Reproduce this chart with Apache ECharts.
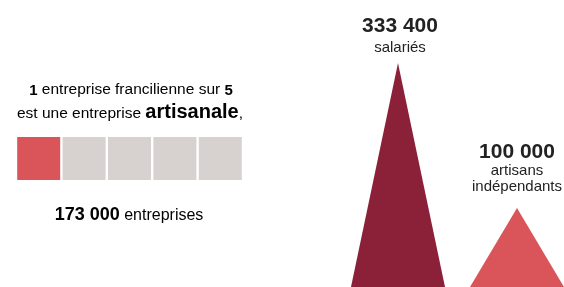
<!DOCTYPE html>
<html>
<head>
<meta charset="utf-8">
<script src="https://cdn.jsdelivr.net/npm/echarts@6/dist/echarts.min.js"></script>
<style>
html,body{margin:0;padding:0;background:#fff;overflow:hidden;}
#wrap{width:564px;height:287px;overflow:hidden;}
#c{width:600px;height:287px;}
</style>
</head>
<body>
<div id="wrap"><div id="c"></div></div>
<script>
// ---- data ----
const cellCategories = ['1', '2', '3', '4', '5'];
const cellValues = [1, 1, 1, 1, 1];
const cellIsArtisanal = [true, false, false, false, false];
const headlineNumbers = ['1', '5'];
const enterpriseCount = '173 000';

const workerCategories = ['salariés', 'artisans indépendants'];
const workerValues = [333400, 100000];
const workerNumberLabels = ['333 400', '100 000'];
const workerTextLines = [['salariés'], ['artisans', 'indépendants']];

// ---- styles ----
const FONT = '"Liberation Sans", Arial, sans-serif';
const TXT = '#222222';
const RED = '#d9555a';
const GREY = '#d7d1cf';
const DARK = '#8b2139';
const workerColors = [DARK, RED];
const Y_MIN = -27000, Y_MAX = 435000;

const chart = echarts.init(document.getElementById('c'), null, {renderer: 'canvas'});

function txt(text, x, y, size, weight) {
  return {
    type: 'text', x: x, y: y, silent: true,
    style: {
      text: text, fill: TXT, font: (weight || 'normal') + ' ' + size + 'px ' + FONT,
      align: 'center', verticalAlign: 'middle'
    }
  };
}

const richBase = {
  r: {fontFamily: FONT, fontSize: 15.5, color: TXT, verticalAlign: 'bottom', lineHeight: 24},
  b: {fontFamily: FONT, fontSize: 15, fontWeight: 'bold', color: TXT, verticalAlign: 'bottom', lineHeight: 24},
  big: {fontFamily: FONT, fontSize: 20, fontWeight: 'bold', color: TXT, verticalAlign: 'bottom', lineHeight: 24},
  n: {fontFamily: FONT, fontSize: 18, fontWeight: 'bold', color: TXT, verticalAlign: 'bottom', lineHeight: 24},
  e: {fontFamily: FONT, fontSize: 16, color: TXT, verticalAlign: 'bottom', lineHeight: 24}
};

const graphics = [
  {type: 'text', x: 131, y: 86, silent: true, style: {
    text: '{b|' + headlineNumbers[0] + '}{r| entreprise francilienne sur }{b|' + headlineNumbers[1] + '}',
    rich: richBase, align: 'center', verticalAlign: 'middle'}},
  {type: 'text', x: 130, y: 110, silent: true, style: {
    text: '{r|est une entreprise }{big|artisanale}{r|,}',
    rich: richBase, align: 'center', verticalAlign: 'middle'}},
  {type: 'text', x: 129, y: 212, silent: true, style: {
    text: '{n|' + enterpriseCount + '}{e| entreprises}',
    rich: richBase, align: 'center', verticalAlign: 'middle'}},
  // right labels
  txt(workerNumberLabels[0], 400, 26, 21, 'bold'),
  txt(workerTextLines[0][0], 400, 48, 15),
  txt(workerNumberLabels[1], 517, 152, 21, 'bold'),
  txt(workerTextLines[1][0], 517, 171, 15),
  txt(workerTextLines[1][1], 517, 187, 15)
];

chart.setOption({
  animation: false,
  backgroundColor: '#ffffff',
  grid: [
    {left: 16, width: 227, top: 137, height: 43},
    {left: 338.5, width: 238, top: 0, height: 287}
  ],
  xAxis: [
    {gridIndex: 0, type: 'category', data: cellCategories, show: false},
    {gridIndex: 1, type: 'category', data: workerCategories, show: false}
  ],
  yAxis: [
    {gridIndex: 0, type: 'value', min: 0, max: 1, show: false},
    {gridIndex: 1, type: 'value', min: Y_MIN, max: Y_MAX, show: false}
  ],
  series: [
    {
      type: 'bar', xAxisIndex: 0, yAxisIndex: 0, barWidth: 43,
      data: cellValues.map((v, i) => ({value: v, itemStyle: {color: cellIsArtisanal[i] ? RED : GREY}})),
      silent: true
    },
    {
      type: 'custom', xAxisIndex: 1, yAxisIndex: 1,
      data: workerValues.map((v, i) => [i, v]),
      renderItem: function (params, api) {
        const i = api.value(0);
        const apex = api.coord([i, api.value(1)]);
        const base = api.coord([i, Y_MIN]);
        const half = api.size([1, 0])[0] * 0.395;
        return {
          type: 'polygon',
          shape: {points: [[apex[0], apex[1]], [apex[0] - half, base[1]], [apex[0] + half, base[1]]]},
          style: {fill: workerColors[i]}
        };
      },
      silent: true
    }
  ],
  graphic: graphics
});
</script>
</body>
</html>
